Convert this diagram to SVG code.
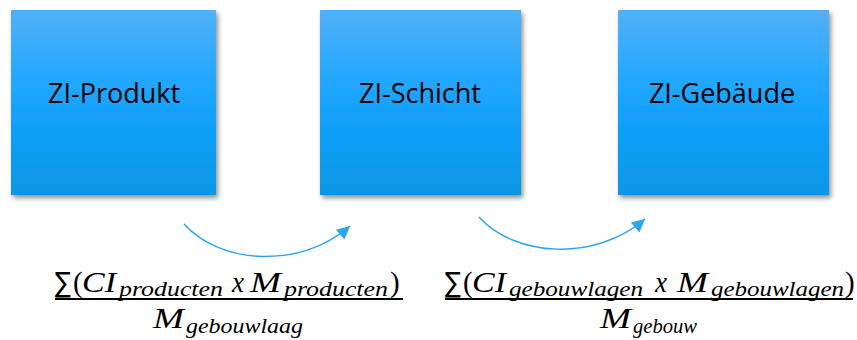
<svg xmlns="http://www.w3.org/2000/svg" width="857" height="340" viewBox="0 0 857 340">
<defs>
<linearGradient id="g" x1="0" y1="0" x2="0" y2="1">
<stop offset="0" stop-color="#52B0F6"/>
<stop offset="0.35" stop-color="#26A8FF"/>
<stop offset="0.6" stop-color="#12A0FB"/>
<stop offset="1" stop-color="#0896E6"/>
</linearGradient>
<filter id="sh" x="-10%" y="-10%" width="125%" height="125%">
<feGaussianBlur in="SourceAlpha" stdDeviation="2.5"/>
<feOffset dx="2" dy="3" result="b"/>
<feComponentTransfer><feFuncA type="linear" slope="0.45"/></feComponentTransfer>
<feMerge><feMergeNode/><feMergeNode in="SourceGraphic"/></feMerge>
</filter>
<marker id="ah" viewBox="0 0 10 10" refX="10" refY="5" markerWidth="17" markerHeight="13" markerUnits="userSpaceOnUse" orient="auto">
<path d="M0,0 L10,5 L0,10 z" fill="#2AA5F0"/>
</marker>
</defs>
<style>
.box{fill:url(#g);filter:url(#sh)}
.lbl{font-family:"Open Sans",sans-serif;font-size:27px;fill:#000;text-anchor:middle}
.conn{fill:none;stroke:#2AA5F0;stroke-width:1.5}
.m{font-family:"Liberation Serif",serif;font-style:italic;font-size:29px;fill:#000}
.p{font-family:"Liberation Serif",serif;font-size:29px;fill:#000}
.s{font-family:"Liberation Serif",serif;font-style:italic;font-size:22px;fill:#000}
.r{font-family:"DejaVu Sans",sans-serif;font-size:28px;fill:#000}
.bar{stroke:#000;stroke-width:2}
</style>
<g id="node-produkt">
<rect class="box" x="11" y="10" width="205" height="185"/>
<text class="lbl" x="114" y="103">ZI-Produkt</text>
</g>
<g id="node-schicht">
<rect class="box" x="320" y="10" width="201" height="185"/>
<text class="lbl" x="420" y="103">ZI-Schicht</text>
</g>
<g id="node-gebaeude">
<rect class="box" x="618" y="10" width="211" height="185"/>
<text class="lbl" x="722" y="103">ZI-Gebäude</text>
</g>
<g id="connectors">
<path class="conn" d="M184,224 C220,264 300,270 350,226" marker-end="url(#ah)"/>
<path class="conn" d="M479,217 C515,257 595,262 645,219" marker-end="url(#ah)"/>
</g>
<g id="formula-1">
<text class="r" x="55" y="292" textLength="16" lengthAdjust="spacingAndGlyphs">∑</text>
<text class="p" x="73" y="292">(</text>
<text class="m" x="82" y="292" textLength="34" lengthAdjust="spacingAndGlyphs">CI</text>
<text class="s" x="119" y="296" textLength="104" lengthAdjust="spacingAndGlyphs">producten</text>
<text class="m" x="232" y="292" textLength="12" lengthAdjust="spacingAndGlyphs">x</text>
<text class="m" x="250" y="292" textLength="31" lengthAdjust="spacingAndGlyphs">M</text>
<text class="s" x="284" y="296" textLength="104" lengthAdjust="spacingAndGlyphs">producten</text>
<text class="p" x="390" y="292">)</text>
<line class="bar" x1="55" y1="299" x2="403" y2="299"/>
<text class="m" x="153" y="328" textLength="31" lengthAdjust="spacingAndGlyphs">M</text>
<text class="s" x="186" y="333" textLength="117" lengthAdjust="spacingAndGlyphs">gebouwlaag</text>
</g>
<g id="formula-2">
<text class="r" x="445" y="292" textLength="16" lengthAdjust="spacingAndGlyphs">∑</text>
<text class="p" x="463" y="292">(</text>
<text class="m" x="472" y="292" textLength="34" lengthAdjust="spacingAndGlyphs">CI</text>
<text class="s" x="509" y="296" textLength="134" lengthAdjust="spacingAndGlyphs">gebouwlagen</text>
<text class="m" x="655" y="292" textLength="12" lengthAdjust="spacingAndGlyphs">x</text>
<text class="m" x="677" y="292" textLength="31" lengthAdjust="spacingAndGlyphs">M</text>
<text class="s" x="711" y="296" textLength="133" lengthAdjust="spacingAndGlyphs">gebouwlagen</text>
<text class="p" x="845" y="292">)</text>
<line class="bar" x1="445" y1="299" x2="853" y2="299"/>
<text class="m" x="600" y="328" textLength="31" lengthAdjust="spacingAndGlyphs">M</text>
<text class="s" x="633" y="333" textLength="64" lengthAdjust="spacingAndGlyphs">gebouw</text>
</g>
</svg>
